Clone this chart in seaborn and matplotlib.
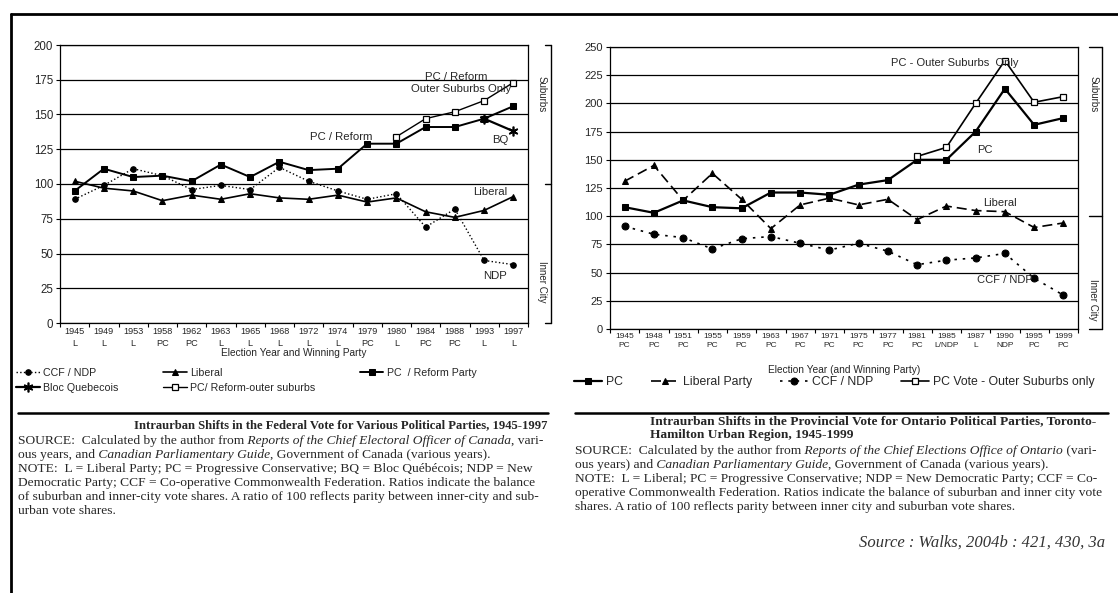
import matplotlib
matplotlib.use("Agg")
import matplotlib.pyplot as plt
import matplotlib.transforms as mtransforms
from matplotlib.lines import Line2D
import numpy as np
import seaborn as sns

W, H = 1118, 593
nan = np.nan

# Federal vote (left panel)
fed_years = ["1945", "1949", "1953", "1958", "1962", "1963", "1965", "1968",
             "1972", "1974", "1979", "1980", "1984", "1988", "1993", "1997"]
fed_winner = ["L", "L", "L", "PC", "PC", "L", "L", "L",
              "L", "L", "PC", "L", "PC", "PC", "L", "L"]
fed_ndp = [89, 99, 111, 106, 96, 99, 96, 112, 102, 95, 89, 93, 69, 82, 45, 42]
fed_liberal = [102, 97, 95, 88, 92, 89, 93, 90, 89, 92, 87, 90, 80, 76, 81, 91]
fed_pc = [95, 111, 105, 106, 102, 114, 105, 116, 110, 111, 129, 129, 141, 141, 147, 156]
fed_bq = [nan] * 14 + [147, 138]
fed_pc_outer = [nan] * 11 + [134, 147, 152, 160, 173]

# Ontario provincial vote (right panel)
prov_years = ["1945", "1948", "1951", "1955", "1959", "1963", "1967", "1971",
              "1975", "1977", "1981", "1985", "1987", "1990", "1995", "1999"]
prov_winner = ["PC", "PC", "PC", "PC", "PC", "PC", "PC", "PC",
               "PC", "PC", "PC", "L/NDP", "L", "NDP", "PC", "PC"]
prov_pc = [108, 103, 114, 108, 107, 121, 121, 119, 128, 132, 150, 150, 175, 213, 181, 187]
prov_liberal = [131, 145, 114, 138, 115, 89, 110, 116, 110, 115, 97, 109, 105, 104, 90, 94]
prov_ndp = [91, 84, 81, 71, 80, 82, 76, 70, 76, 69, 57, 61, 63, 67, 45, 30]
prov_pc_outer = [nan] * 10 + [153, 161, 200, 238, 201, 206]

sns.set_style("ticks")
plt.rcParams["font.family"] = ["Liberation Sans", "DejaVu Sans"]
SERIF = ["Liberation Serif", "DejaVu Serif"]

fig = plt.figure(figsize=(W / 100, H / 100), dpi=100)


def px_rect(x0, y0, x1, y1):
    return [x0 / W, 1 - y1 / H, (x1 - x0) / W, (y1 - y0) / H]


def fx(px):
    return px / W


def fy(py):
    return 1 - py / H


def style_axes(ax, ymax, years, winners, fs, yfs):
    ax.set_xlim(-0.5, 15.5)
    ax.set_ylim(0, ymax)
    ax.set_yticks(np.arange(0, ymax + 1, 25))
    ax.yaxis.grid(True, color="black", lw=0.9)
    ax.set_axisbelow(True)
    ax.set_xticks(range(16))
    ax.set_xticklabels([f"{y}\n{w}" for y, w in zip(years, winners)],
                       fontsize=fs, linespacing=1.45)
    ax.set_xticks(np.arange(-0.5, 16, 1), minor=True)
    ax.tick_params(axis="x", which="major", length=0, pad=3)
    ax.tick_params(axis="x", which="minor", length=3, width=0.8, color="black")
    ax.tick_params(axis="y", length=3, width=0.8, color="black", labelsize=yfs, pad=2)
    for s in ax.spines.values():
        s.set_visible(True)
        s.set_color("black")
        s.set_linewidth(0.9)


def bracket(ax, x_line, x_tick, ys, label_x, labels):
    tr = mtransforms.blended_transform_factory(ax.transAxes, ax.transData)
    ax.add_line(Line2D([x_line, x_line], [ys[0], ys[-1]], transform=tr,
                       color="black", lw=1, clip_on=False))
    for y in ys:
        ax.add_line(Line2D([x_tick, x_line], [y, y], transform=tr,
                           color="black", lw=1, clip_on=False))
    for text, y in labels:
        ax.text(label_x, y, text, transform=tr, rotation=270, ha="center",
                va="center", fontsize=7)


x = np.arange(16)

# ---- left panel ----
ax1 = fig.add_axes(px_rect(60, 45, 528, 323))
sns.lineplot(x=x, y=fed_ndp, ax=ax1, color="black", lw=1, linestyle=":",
             marker="o", ms=4, mec="black", label="CCF / NDP")
sns.lineplot(x=x, y=fed_liberal, ax=ax1, color="black", lw=1.2,
             marker="^", ms=4.5, mec="black", label="Liberal")
sns.lineplot(x=x, y=fed_pc, ax=ax1, color="black", lw=1.4,
             marker="s", ms=4, mec="black", label="PC  / Reform Party")
sns.lineplot(x=x, y=fed_bq, ax=ax1, color="black", lw=1.6,
             marker=(6, 2, 0), ms=7, mew=1.2, mec="black", label="Bloc Quebecois")
sns.lineplot(x=x, y=fed_pc_outer, ax=ax1, color="black", lw=1,
             marker="s", ms=4, mfc="white", mec="black", mew=0.9,
             label="PC/ Reform-outer suburbs")
style_axes(ax1, 200, fed_years, fed_winner, 6.6, 8.3)
ax1.set_xlabel("Election Year and Winning Party", fontsize=7.3, labelpad=0)
ax1.set_ylabel("")
ax1.get_legend().remove()

for txt, xi, yv in [("PC / Reform", 13.05, 177), ("Outer Suburbs Only", 13.2, 168),
                    ("PC / Reform", 9.1, 134), ("BQ", 14.55, 132),
                    ("Liberal", 14.2, 94), ("NDP", 14.37, 34)]:
    ax1.text(xi, yv, txt, ha="center", va="center", fontsize=8.2)

bracket(ax1, 1.049, 1.036, [200, 100, 0], 1.029,
        [("Suburbs", 165), ("Inner City", 30)])

h, l = ax1.get_legend_handles_labels()
hd = dict(zip(l, h))
order = ["CCF / NDP", "Bloc Quebecois", "Liberal", "PC/ Reform-outer suburbs",
         "PC  / Reform Party"]
fig.legend([hd[k] for k in order], order, loc="upper left",
           bbox_to_anchor=(fx(16), fy(368)), ncol=3, frameon=False,
           fontsize=7.7, handlelength=2.2, handletextpad=0.3,
           columnspacing=4.2, borderpad=0, labelspacing=0.45, borderaxespad=0)

# ---- right panel ----
ax2 = fig.add_axes(px_rect(610, 47, 1078, 329))
sns.lineplot(x=x, y=prov_pc, ax=ax2, color="black", lw=1.6,
             marker="s", ms=4.5, mec="black", label="PC")
sns.lineplot(x=x, y=prov_liberal, ax=ax2, color="black", lw=1.2, dashes=(6, 3),
             marker="^", ms=5, mec="black", label="Liberal Party")
sns.lineplot(x=x, y=prov_ndp, ax=ax2, color="black", lw=1.2, dashes=(1.5, 3.5),
             marker="o", ms=5, mec="black", label="CCF / NDP")
sns.lineplot(x=x, y=prov_pc_outer, ax=ax2, color="black", lw=1.2,
             marker="s", ms=5, mfc="white", mec="black", mew=0.9,
             label="PC Vote - Outer Suburbs only")
style_axes(ax2, 250, prov_years, prov_winner, 6.0, 8.0)
ax2.set_xlabel("Election Year (and Winning Party)", fontsize=7.3, labelpad=11)
ax2.set_ylabel("")
ax2.get_legend().remove()

for txt, xi, yv in [("PC - Outer Suburbs  Only", 11.3, 236), ("PC", 12.33, 159),
                    ("Liberal", 12.84, 112), ("CCF / NDP", 13.0, 43)]:
    ax2.text(xi, yv, txt, ha="center", va="center", fontsize=8)

bracket(ax2, 1.051, 1.024, [250, 100, 0], 1.033,
        [("Suburbs", 208), ("Inner City", 26)])

h, l = ax2.get_legend_handles_labels()
fig.legend(h, l, loc="upper left", bbox_to_anchor=(fx(574), fy(376)), ncol=4,
           frameon=False, fontsize=8.8, handlelength=2.3, handletextpad=0.3,
           columnspacing=2.3, borderpad=0, borderaxespad=0)

# ---- frame and rules ----
fig.add_artist(Line2D([fx(11), 1], [fy(14), fy(14)], color="black", lw=2))
fig.add_artist(Line2D([fx(11), fx(11)], [fy(14), 0], color="black", lw=2))
fig.add_artist(Line2D([fx(18), fx(548)], [fy(413), fy(413)], color="black", lw=1.8))
fig.add_artist(Line2D([fx(575), fx(1108)], [fy(413), fy(413)], color="black", lw=1.8))

renderer = fig.canvas.get_renderer()


def text_runs(px, py, runs, size=9.7):
    # draw one caption line made of plain / italic / bold pieces
    xx = fx(px)
    for s, st in runs:
        t = fig.text(xx, fy(py), s, fontsize=size, family=SERIF, va="center",
                     ha="left", fontstyle="italic" if st == "i" else "normal",
                     fontweight="bold" if st == "b" else "normal")
        xx += t.get_window_extent(renderer).width / W


left_caption = [
    (425, [("Intraurban Shifts in the Federal Vote for Various Political Parties, 1945-1997", "b")], 134, 9.1),
    (441, [("SOURCE:  Calculated by the author from", ""),
           (" Reports of the Chief Electoral Officer of Canada", "i"), (", vari-", "")], 18, 9.7),
    (455, [("ous years, and", ""), (" Canadian Parliamentary Guide", "i"),
           (", Government of Canada (various years).", "")], 18, 9.7),
    (469, [("NOTE:  L = Liberal Party; PC = Progressive Conservative; BQ = Bloc Québécois; NDP = New", "")], 18, 9.7),
    (483, [("Democratic Party; CCF = Co-operative Commonwealth Federation. Ratios indicate the balance", "")], 18, 9.7),
    (497, [("of suburban and inner-city vote shares. A ratio of 100 reflects parity between inner-city and sub-", "")], 18, 9.7),
    (511, [("urban vote shares.", "")], 18, 9.7),
]
right_caption = [
    (421, [("Intraurban Shifts in the Provincial Vote for Ontario Political Parties, Toronto-", "b")], 650, 9.6),
    (435, [("Hamilton Urban Region, 1945-1999", "b")], 650, 9.6),
    (451, [("SOURCE:  Calculated by the author from", ""),
           (" Reports of the Chief Elections Office of Ontario", "i"), (" (vari-", "")], 575, 9.7),
    (465, [("ous years) and", ""), (" Canadian Parliamentary Guide", "i"),
           (", Government of Canada (various years).", "")], 575, 9.7),
    (479, [("NOTE:  L = Liberal; PC = Progressive Conservative; NDP = New Democratic Party; CCF = Co-", "")], 575, 9.7),
    (493, [("operative Commonwealth Federation. Ratios indicate the balance of suburban and inner city vote", "")], 575, 9.7),
    (507, [("shares. A ratio of 100 reflects parity between inner city and suburban vote shares.", "")], 575, 9.7),
]
for py, runs, px, size in left_caption + right_caption:
    text_runs(px, py, runs, size)

fig.text(fx(1105), fy(543), "Source : Walks, 2004b : 421, 430, 3a", fontsize=12,
         family=SERIF, fontstyle="italic", ha="right", va="center", color="#333333")

fig.savefig("out.png", dpi=100)
